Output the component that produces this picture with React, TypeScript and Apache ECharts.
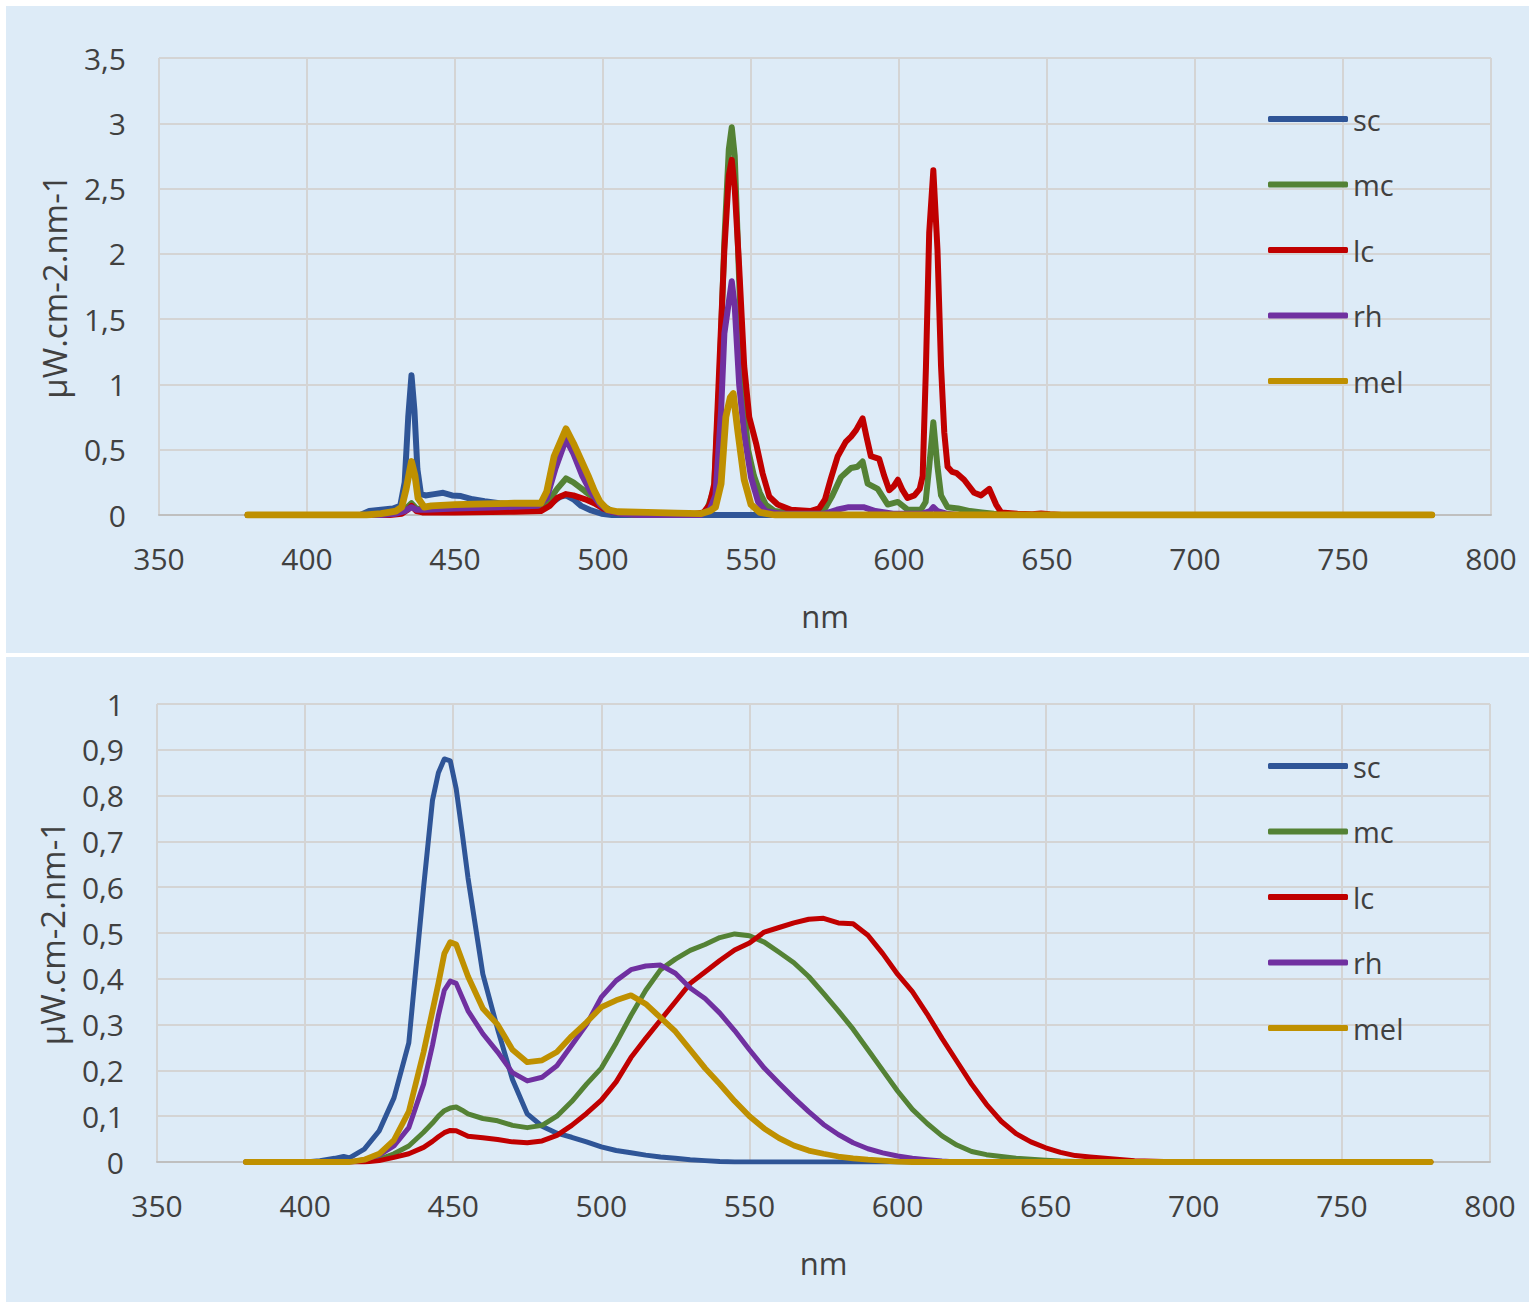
import React, { useEffect, useRef } from "react";
import * as echarts from "echarts";

type Pt = [number, number];

const seriesNames = ["sc", "mc", "lc", "rh", "mel"];
const seriesColors = ["#2F5597", "#548235", "#C00000", "#7030A0", "#BF9000"];
const xAxisName = "nm";
const yAxisName = "µW.cm-2.nm-1";

// ---------- Top chart: [wavelength nm, value] ----------
const scTop: Pt[] = [
  [380, 0], [418, 0], [421, 0.03], [425, 0.04], [429, 0.05], [431.5, 0.07], [433, 0.25], [434.2, 0.75],
  [435.3, 1.07], [436.3, 0.8], [437.3, 0.35], [438.5, 0.16], [440, 0.15], [443, 0.16], [446, 0.17],
  [449, 0.15], [452, 0.145], [456, 0.12], [460, 0.105], [465, 0.09], [470, 0.08], [475, 0.075],
  [480, 0.08], [483, 0.1], [485.5, 0.14], [487.5, 0.15], [490, 0.12], [492.6, 0.07], [496, 0.035],
  [499.5, 0.01], [503, 0], [780, 0],
];
const mcTop: Pt[] = [
  [380, 0], [425, 0], [430, 0.02], [433, 0.04], [435.3, 0.09], [437, 0.05], [439, 0.045], [445, 0.05],
  [460, 0.055], [475, 0.06], [479, 0.07], [482, 0.12], [484.5, 0.2], [487.5, 0.28], [490, 0.25],
  [494, 0.18], [497, 0.13], [500, 0.07], [503, 0.03], [507, 0.01], [512, 0], [532, 0], [535, 0.03],
  [537.5, 0.2], [539.3, 1.0], [541, 2.1], [542.5, 2.8], [543.5, 2.97], [544.5, 2.75], [546, 1.8],
  [547.5, 0.9], [549, 0.5], [551, 0.3], [553, 0.17], [555, 0.08], [558, 0.03], [565, 0.01], [572, 0.02],
  [575, 0.05], [577.5, 0.15], [580.4, 0.29], [583.8, 0.36], [586, 0.37], [587.7, 0.41], [589.4, 0.24],
  [592.8, 0.2], [596.2, 0.08], [599.6, 0.1], [603, 0.04], [607.4, 0.04], [609, 0.1], [610.2, 0.37],
  [611.6, 0.71], [613, 0.37], [614.2, 0.15], [616.4, 0.06], [620, 0.05], [624, 0.03], [628, 0.02],
  [632, 0.01], [640, 0], [780, 0],
];
const lcTop: Pt[] = [
  [380, 0], [428, 0], [432, 0.01], [434, 0.04], [435.3, 0.07], [437, 0.03], [439, 0.02], [450, 0.02],
  [470, 0.025], [479, 0.03], [482, 0.07], [484.5, 0.13], [487.5, 0.16], [490, 0.15], [494, 0.12],
  [497, 0.09], [500, 0.05], [503, 0.025], [507, 0.01], [512, 0.005], [530, 0.005], [534, 0.02],
  [536, 0.08], [537.6, 0.24], [539.3, 1.14], [541, 2.03], [542.5, 2.6], [543.5, 2.72], [544.5, 2.5],
  [546, 1.9], [547.7, 1.14], [549.4, 0.75], [551.7, 0.55], [553.9, 0.32], [556.2, 0.14], [559, 0.08],
  [563.5, 0.04], [570, 0.03], [573, 0.05], [575, 0.12], [577, 0.28], [579.3, 0.45], [582, 0.56],
  [583.8, 0.6], [585.5, 0.65], [587.7, 0.74], [589, 0.6], [590.5, 0.45], [592, 0.44], [593.3, 0.43],
  [595, 0.3], [596.7, 0.19], [598.2, 0.22], [599.6, 0.27], [601.2, 0.19], [602.9, 0.13], [605.2, 0.15],
  [607, 0.2], [608, 0.3], [609.1, 1.13], [610.2, 2.16], [611.6, 2.64], [613, 2.03], [614.2, 1.14],
  [615.3, 0.63], [616.4, 0.37], [618, 0.33], [619.5, 0.32], [622, 0.27], [625.4, 0.17], [627.7, 0.15],
  [630.5, 0.2], [632.8, 0.08], [634.5, 0.02], [640, 0.01], [645, 0.005], [648, 0.012], [651, 0.005],
  [655, 0], [780, 0],
];
const rhTop: Pt[] = [
  [380, 0], [425, 0], [430, 0.01], [433, 0.03], [435.3, 0.06], [437, 0.04], [440, 0.04], [450, 0.05],
  [465, 0.06], [478, 0.07], [481, 0.13], [484, 0.36], [487.5, 0.58], [490, 0.47], [493, 0.3], [496, 0.17],
  [499, 0.08], [502, 0.03], [506, 0.01], [512, 0], [533, 0], [536, 0.04], [538, 0.15], [539.9, 0.8],
  [541, 1.39], [543.5, 1.79], [544.5, 1.6], [546, 1.0], [547.7, 0.62], [550, 0.29], [552.4, 0.1],
  [555, 0.03], [560, 0.01], [575, 0.01], [579, 0.04], [583, 0.06], [588, 0.06], [592, 0.03], [598, 0.01],
  [608, 0.01], [610.5, 0.03], [611.6, 0.06], [613, 0.03], [616, 0.01], [620, 0], [780, 0],
];
const melTop: Pt[] = [
  [380, 0], [420, 0], [425, 0.01], [430, 0.03], [432, 0.06], [433.5, 0.2], [435.3, 0.41], [436.5, 0.3],
  [437.5, 0.13], [439.6, 0.06], [442, 0.07], [450, 0.08], [460, 0.085], [470, 0.09], [479, 0.09],
  [481, 0.18], [483.5, 0.45], [487.5, 0.66], [490, 0.55], [492.6, 0.42], [495, 0.3], [497, 0.19],
  [499, 0.1], [501.6, 0.04], [505, 0.025], [515, 0.02], [525, 0.015], [533, 0.01], [536, 0.03],
  [538, 0.06], [539.9, 0.24], [541.5, 0.75], [543, 0.9], [544, 0.93], [545.5, 0.65], [547.7, 0.27],
  [550, 0.08], [553, 0.02], [558, 0], [780, 0],
];

// ---------- Bottom chart: shared wavelength grid ----------
const bottomNm: number[] = [
  380, 400, 405, 410, 413, 415, 420, 425, 430, 435,
  440, 443, 445, 447, 449, 451, 453, 455, 460, 465,
  470, 475, 480, 485, 490, 495, 500, 505, 510, 515,
  520, 525, 530, 535, 540, 545, 550, 555, 560, 565,
  570, 575, 580, 585, 590, 595, 600, 605, 610, 615,
  620, 625, 630, 635, 640, 645, 650, 655, 660, 665,
  670, 680, 690, 700, 780,
];
const scBottom: number[] = [
  0, 0, 0.003, 0.008, 0.012, 0.009, 0.028, 0.068, 0.14, 0.26,
  0.6, 0.79, 0.85, 0.88, 0.876, 0.815, 0.72, 0.62, 0.41, 0.29,
  0.18, 0.105, 0.078, 0.063, 0.054, 0.044, 0.033, 0.025, 0.02, 0.015,
  0.011, 0.008, 0.005, 0.003, 0.001, 0, 0, 0, 0, 0,
  0, 0, 0, 0, 0, 0, 0, 0, 0, 0,
  0, 0, 0, 0, 0, 0, 0, 0, 0, 0,
  0, 0, 0, 0, 0,
];
const mcBottom: number[] = [
  0, 0, 0, 0, 0, 0, 0.002, 0.006, 0.018, 0.035,
  0.065, 0.085, 0.1, 0.112, 0.118, 0.12, 0.113, 0.105, 0.095, 0.09,
  0.08, 0.075, 0.08, 0.1, 0.132, 0.17, 0.205, 0.26, 0.32, 0.375,
  0.42, 0.443, 0.462, 0.475, 0.49, 0.498, 0.494, 0.48, 0.458, 0.435,
  0.405, 0.368, 0.33, 0.29, 0.245, 0.2, 0.155, 0.115, 0.084, 0.057,
  0.037, 0.023, 0.016, 0.012, 0.008, 0.006, 0.004, 0.002, 0.001, 0,
  0, 0, 0, 0, 0,
];
const lcBottom: number[] = [
  0, 0, 0, 0, 0, 0, 0, 0.003, 0.01, 0.018,
  0.032, 0.045, 0.055, 0.064, 0.069, 0.068, 0.062, 0.056, 0.053, 0.049,
  0.044, 0.042, 0.046, 0.058, 0.08, 0.106, 0.135, 0.175, 0.228, 0.27,
  0.31, 0.35, 0.39, 0.415, 0.44, 0.463, 0.478, 0.502, 0.512, 0.522,
  0.53, 0.532, 0.522, 0.52, 0.495, 0.455, 0.41, 0.372, 0.323, 0.27,
  0.22, 0.17, 0.126, 0.089, 0.062, 0.044, 0.031, 0.021, 0.014, 0.011,
  0.008, 0.003, 0.001, 0, 0,
];
const rhBottom: number[] = [
  0, 0, 0, 0, 0, 0, 0.005, 0.015, 0.035, 0.075,
  0.17, 0.255, 0.32, 0.375, 0.395, 0.39, 0.36, 0.33, 0.28, 0.24,
  0.195, 0.177, 0.185, 0.21, 0.255, 0.3, 0.36, 0.396, 0.42, 0.428,
  0.43, 0.412, 0.38, 0.357, 0.325, 0.287, 0.245, 0.205, 0.172, 0.14,
  0.11, 0.082, 0.06, 0.042, 0.029, 0.02, 0.013, 0.008, 0.005, 0.002,
  0, 0, 0, 0, 0, 0, 0, 0, 0, 0,
  0, 0, 0, 0, 0,
];
const melBottom: number[] = [
  0, 0, 0, 0, 0, 0, 0.005, 0.018, 0.048, 0.11,
  0.24, 0.33, 0.39, 0.455, 0.48, 0.475, 0.44, 0.405, 0.335, 0.3,
  0.245, 0.218, 0.222, 0.24, 0.275, 0.305, 0.338, 0.353, 0.364, 0.345,
  0.315, 0.285, 0.245, 0.205, 0.17, 0.133, 0.1, 0.073, 0.052, 0.036,
  0.025, 0.018, 0.012, 0.008, 0.005, 0.003, 0.001, 0, 0, 0,
  0, 0, 0, 0, 0, 0, 0, 0, 0, 0,
  0, 0, 0, 0, 0,
];

const zip = (xs: number[], ys: number[]): Pt[] => xs.map((x, i) => [x, ys[i] ?? 0]);

const topData: Pt[][] = [scTop, mcTop, lcTop, rhTop, melTop];
const bottomData: Pt[][] = [
  zip(bottomNm, scBottom),
  zip(bottomNm, mcBottom),
  zip(bottomNm, lcBottom),
  zip(bottomNm, rhBottom),
  zip(bottomNm, melBottom),
];

const FONT = "'Open Sans', 'DejaVu Sans', sans-serif";
const TEXT = "#404040";
const PANEL_BG = "#DDEBF7";

type Cfg = {
  data: Pt[][];
  yMax: number;
  yInterval: number;
  grid: { left: number; top: number; width: number; height: number };
  legendTop: number;
  lineWidth: number;
};

function buildOption(cfg: Cfg) {
  const fmt = (v: number) => String(Math.round(v * 10) / 10).replace(".", ",");
  return {
    animation: false,
    backgroundColor: PANEL_BG,
    grid: { ...cfg.grid, containLabel: false },
    legend: {
      orient: "vertical",
      left: 1257,
      top: cfg.legendTop,
      icon: "roundRect",
      itemWidth: 80,
      itemHeight: 6,
      itemGap: 25.5,
      selectedMode: false,
      data: seriesNames,
      textStyle: { fontSize: 29, lineHeight: 40, color: TEXT, fontFamily: FONT },
    },
    xAxis: {
      type: "value",
      min: 350,
      max: 800,
      interval: 50,
      name: xAxisName,
      nameLocation: "middle",
      nameGap: 85,
      nameTextStyle: { fontSize: 31, color: TEXT, fontFamily: FONT },
      axisLine: { show: true, onZero: true, lineStyle: { color: "#BFBFBF", width: 2 } },
      axisTick: { show: false },
      axisLabel: { margin: 28, fontSize: 30, color: TEXT, fontFamily: FONT },
      splitLine: { show: true, lineStyle: { color: "#D4D4D4", width: 2 } },
    },
    yAxis: {
      type: "value",
      min: 0,
      max: cfg.yMax,
      interval: cfg.yInterval,
      name: yAxisName,
      nameLocation: "middle",
      nameRotate: 90,
      nameGap: 88,
      nameTextStyle: { fontSize: 33, color: TEXT, fontFamily: FONT },
      axisLine: { show: false },
      axisTick: { show: false },
      axisLabel: { margin: 33, fontSize: 30, color: TEXT, fontFamily: FONT, formatter: fmt },
      splitLine: { show: true, lineStyle: { color: "#D4D4D4", width: 2 } },
    },
    series: seriesNames.map((name, i) => ({
      name,
      type: "line",
      data: cfg.data[i],
      showSymbol: false,
      symbol: "none",
      silent: true,
      color: seriesColors[i],
      lineStyle: {
        width: name === "mel" ? cfg.lineWidth + 0.8 : cfg.lineWidth,
        color: seriesColors[i],
        cap: "round",
        join: "round",
      },
      z: 2 + i,
    })),
  };
}

function Panel(props: { left: number; top: number; width: number; height: number; cfg: Cfg }) {
  const ref = useRef<HTMLDivElement>(null);
  useEffect(() => {
    if (!ref.current) return;
    const chart = echarts.init(ref.current, undefined, { renderer: "svg" });
    chart.setOption(buildOption(props.cfg) as any);
    return () => chart.dispose();
  }, []);
  return (
    <div
      ref={ref}
      style={{
        position: "absolute",
        left: props.left,
        top: props.top,
        width: props.width,
        height: props.height,
      }}
    />
  );
}

export default function App() {
  return (
    <div style={{ position: "absolute", left: 0, top: 0, width: 1535, height: 1308, background: "#ffffff" }}>
      <Panel
        left={6}
        top={6}
        width={1523}
        height={647}
        cfg={{
          data: topData,
          yMax: 3.5,
          yInterval: 0.5,
          grid: { left: 153, top: 52, width: 1332, height: 457 },
          legendTop: 88,
          lineWidth: 6,
        }}
      />
      <Panel
        left={6}
        top={657}
        width={1523}
        height={645}
        cfg={{
          data: bottomData,
          yMax: 1,
          yInterval: 0.1,
          grid: { left: 151, top: 47, width: 1333, height: 458 },
          legendTop: 84,
          lineWidth: 5,
        }}
      />
    </div>
  );
}
